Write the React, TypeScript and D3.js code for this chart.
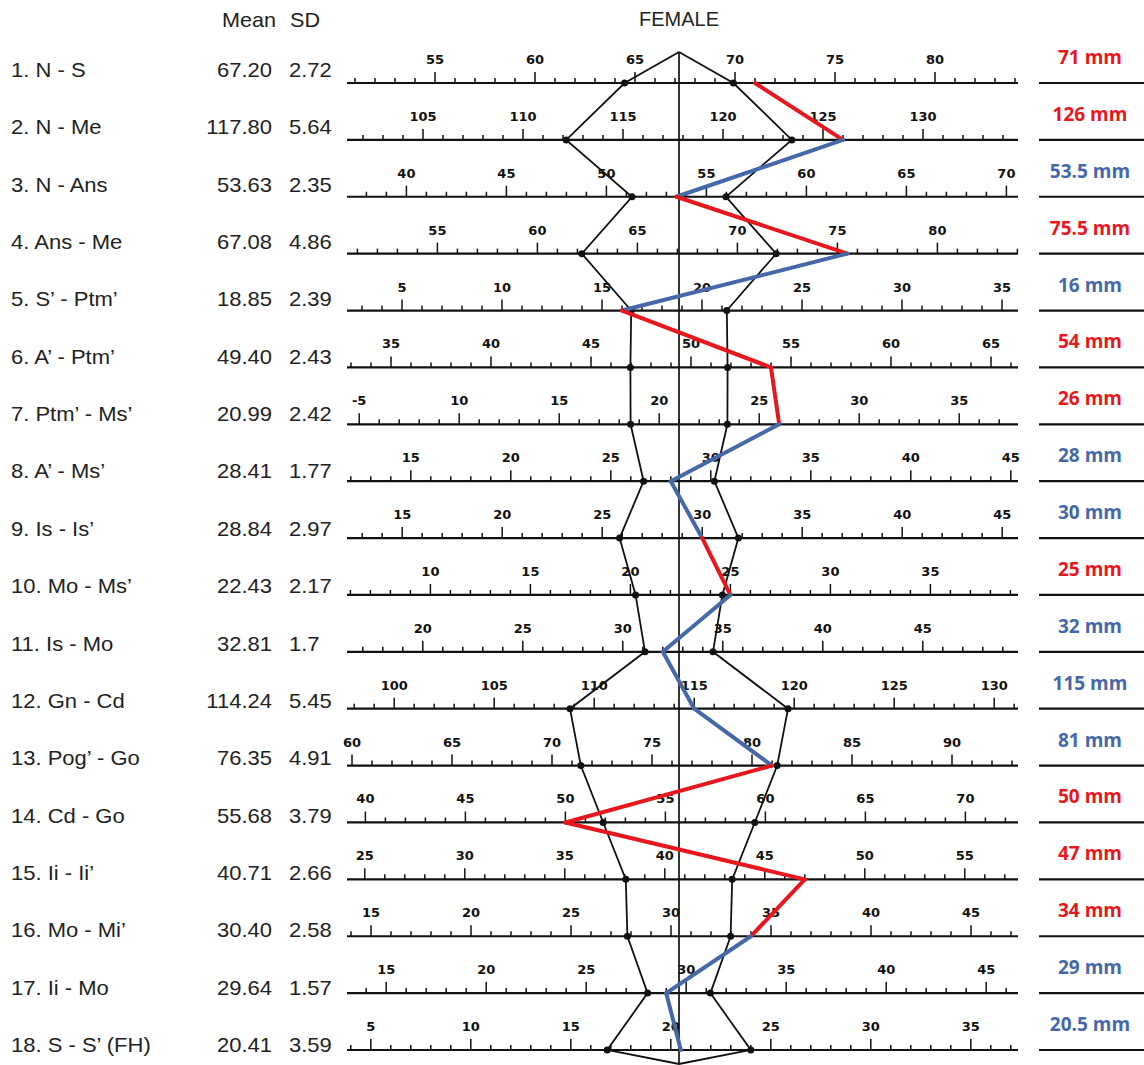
import React from "react";
import * as d3 from "d3";

// measurements (rows of the template)
const labels = [
  "1. N - S", "2. N - Me", "3. N - Ans", "4. Ans - Me", "5. S’ - Ptm’", "6. A’ - Ptm’",
  "7. Ptm’ - Ms’", "8. A’ - Ms’", "9. Is - Is’", "10. Mo - Ms’", "11. Is - Mo", "12. Gn - Cd",
  "13. Pog’ - Go", "14. Cd - Go", "15. Ii - Ii’", "16. Mo - Mi’", "17. Ii - Mo", "18. S - S’ (FH)",
];
const means = [67.2, 117.8, 53.63, 67.08, 18.85, 49.4, 20.99, 28.41, 28.84, 22.43, 32.81, 114.24, 76.35, 55.68, 40.71, 30.4, 29.64, 20.41];
const sds = [2.72, 5.64, 2.35, 4.86, 2.39, 2.43, 2.42, 1.77, 2.97, 2.17, 1.7, 5.45, 4.91, 3.79, 2.66, 2.58, 1.57, 3.59];

// patient values
const patient = [71, 126, 53.5, 75.5, 16, 54, 26, 28, 30, 25, 32, 115, 81, 50, 47, 34, 29, 20.5];
const flagged = [true, true, false, true, false, true, true, false, false, true, false, false, false, true, true, true, false, false];

// tick label as printed on the scan
const tickLabelOverrides: Record<string, string> = { "6:5": "-5" };

const width = 1144;
const height = 1065;
const cx = 679;
const x0 = 347;
const x1 = 1018;
const pxPerMm = 20;
const RED = "#e8161d";
const BLUE = "#4468a8";

const yScale = d3.scaleLinear().domain([0, labels.length - 1]).range([83, 1050]);
// the typed table on the left is spaced a little wider than the rulers
const yText = d3.scaleLinear().domain([0, labels.length - 1]).range([77, 1052]);

const rowScale = (i: number) =>
  d3
    .scaleLinear()
    .domain([means[i] - (cx - x0) / pxPerMm, means[i] + (x1 - cx) / pxPerMm])
    .range([x0, x1]);

const textFont = "'Liberation Sans', Arial, sans-serif";

const Ruler = ({ i }: { i: number }) => {
  const x = rowScale(i);
  const y = yScale(i);
  const [d0, d1] = x.domain();
  const ticks = d3.range(Math.ceil(d0), Math.floor(d1) + 1);
  return (
    <g>
      <line x1={x0} x2={x1} y1={y} y2={y} stroke="#111" strokeWidth={2.2} />
      {ticks.map((v) => {
        const major = v % 5 === 0;
        return (
          <g key={v}>
            <line x1={x(v)} x2={x(v)} y1={y} y2={y - (major ? 11 : 5)} stroke="#111" strokeWidth={1.5} />
            {major && (
              <text
                x={x(v)}
                y={y - 19}
                textAnchor="middle"
                fontFamily="'DejaVu Sans', sans-serif"
                fontWeight="bold"
                fontSize={13}
                fill="#111"
              >
                {tickLabelOverrides[`${i}:${v}`] ?? v}
              </text>
            )}
          </g>
        );
      })}
      <line x1={1039} x2={width} y1={y} y2={y} stroke="#111" strokeWidth={2.2} />
    </g>
  );
};

const App = () => {
  const rows = d3.range(labels.length);
  const left = rows.map((i) => [rowScale(i)(means[i] - sds[i]), yScale(i)] as [number, number]);
  const right = rows.map((i) => [rowScale(i)(means[i] + sds[i]), yScale(i)] as [number, number]);
  const top: [number, number] = [cx, 52];
  const bottom: [number, number] = [cx, 1064];
  const polygon = d3.line()([top, ...left, bottom, ...right.slice().reverse(), top]);
  const pts = rows.map((i) => [rowScale(i)(patient[i]), yScale(i)]);

  return (
    <div style={{ position: "absolute", left: 0, top: 0 }}>
      <svg width={width} height={height} style={{ display: "block", background: "#fff" }}>
        <rect width={width} height={height} fill="#fff" />
        <text x={cx} y={26} textAnchor="middle" fontFamily={textFont} fontSize={20} fill="#222">
          FEMALE
        </text>
        <text transform="translate(222,27) scale(1.08,1)" fontFamily={textFont} fontSize={20} fill="#222">
          Mean
        </text>
        <text transform="translate(290,27) scale(1.08,1)" fontFamily={textFont} fontSize={20} fill="#222">
          SD
        </text>

        {rows.map((i) => (
          <g key={i}>
            <text transform={`translate(11,${yText(i)}) scale(1.1,1)`} fontFamily={textFont} fontSize={20} fill="#222">
              {labels[i]}
            </text>
            <text transform={`translate(272,${yText(i)}) scale(1.1,1)`} textAnchor="end" fontFamily={textFont} fontSize={20} fill="#222">
              {means[i].toFixed(2)}
            </text>
            <text transform={`translate(289,${yText(i)}) scale(1.1,1)`} fontFamily={textFont} fontSize={20} fill="#222">
              {String(sds[i])}
            </text>
            <Ruler i={i} />
            <text
              x={1090}
              y={yScale(i) - 19}
              textAnchor="middle"
              fontFamily="'Open Sans', sans-serif"
              fontWeight={700}
              fontSize={19}
              fill={flagged[i] ? RED : BLUE}
            >
              {`${patient[i]} mm`}
            </text>
          </g>
        ))}

        <line x1={cx} x2={cx} y1={top[1]} y2={bottom[1]} stroke="#111" strokeWidth={1.7} />
        <path d={polygon ?? ""} fill="none" stroke="#111" strokeWidth={1.8} strokeLinejoin="miter" />
        {[...left, ...right].map(([x, y], k) => (
          <circle key={k} cx={x} cy={y} r={3.5} fill="#111" />
        ))}

        {rows.slice(1).map((i) => (
          <line
            key={i}
            x1={pts[i - 1][0]}
            y1={pts[i - 1][1]}
            x2={pts[i][0]}
            y2={pts[i][1]}
            stroke={flagged[i] ? RED : BLUE}
            strokeWidth={4}
            strokeLinecap="round"
          />
        ))}
      </svg>
    </div>
  );
};

export default App;
